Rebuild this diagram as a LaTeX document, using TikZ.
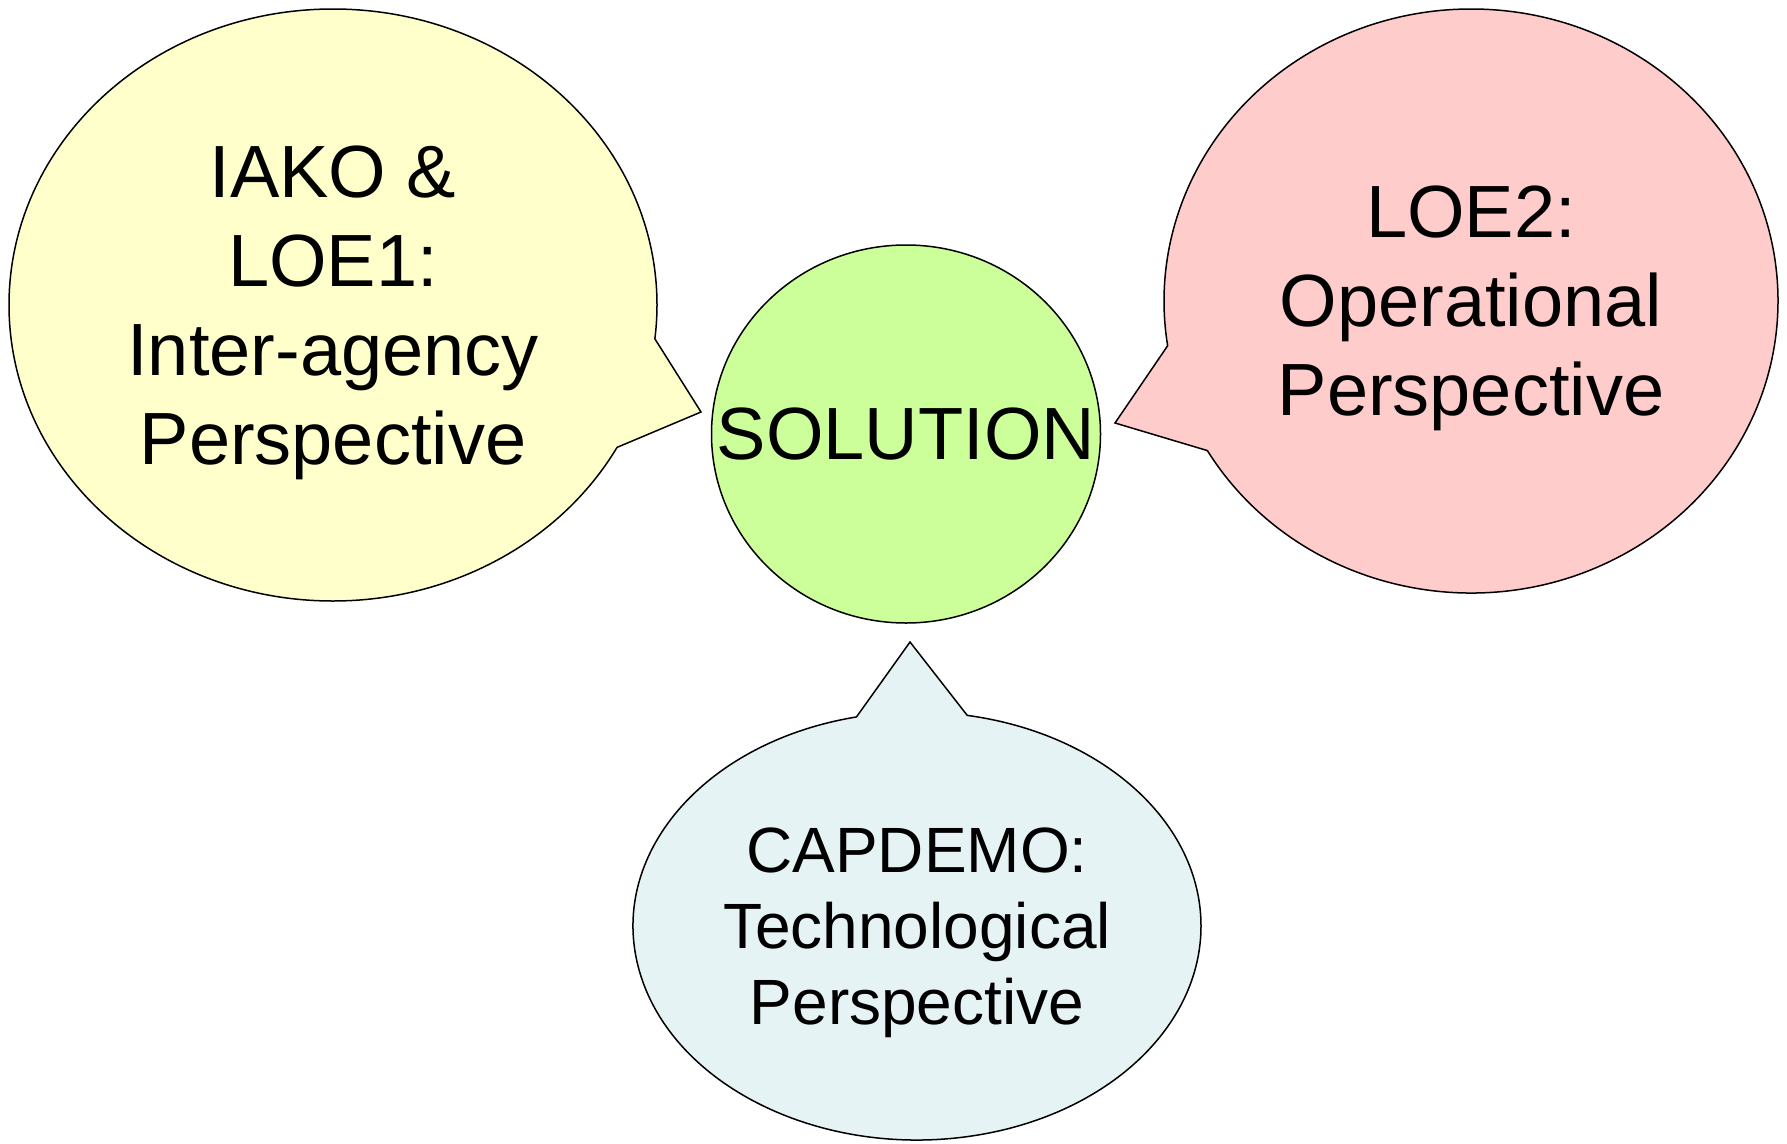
\documentclass[tikz,border=0pt]{standalone}
\usepackage{fontspec}
\setmainfont{Liberation Sans}
\usetikzlibrary{shapes.callouts,shapes.geometric}
\definecolor{bubyellow}{HTML}{FFFFCC}
\definecolor{bubpink}{HTML}{FFCCCC}
\definecolor{bubgreen}{HTML}{CCFF99}
\definecolor{bubblue}{HTML}{E5F3F4}
\begin{document}
\begin{tikzpicture}[x=1pt,y=-1pt,
  outl/.style={draw=black, line width=1.5pt, inner sep=0pt, align=center, text depth=0pt},
  bigtext/.style={font=\fontsize{74}{89}\selectfont},
  smalltext/.style={font=\fontsize{64}{76}\selectfont},
  bubble/.style={ellipse callout, outl}]
\useasboundingbox (0,0) rectangle (1787,1143);
\coordinate (tipY) at (701,412);
\coordinate (tipP) at (1115,423);
\coordinate (tipB) at (910,642);
\node[ellipse, outl, bigtext, fill=bubgreen, minimum width=389pt, minimum height=378pt] (sol) at (906,434) {\makebox[0pt]{SOLUTION}};
\node[bubble, bigtext, fill=bubyellow, minimum width=648pt, minimum height=592pt,
  callout absolute pointer={(tipY)}, callout pointer arc=22.2] (iako) at (333,305)
  {IAKO \&\\LOE1:\\Inter-agency\\Perspective};
\node[bubble, bigtext, fill=bubpink, minimum width=614pt, minimum height=584pt,
  callout absolute pointer={(tipP)}, callout pointer arc=22] (loe) at (1471,301)
  {LOE2:\\Operational\\Perspective};
\node[bubble, smalltext, fill=bubblue, minimum width=568pt, minimum height=428pt,
  callout absolute pointer={(tipB)}, callout pointer arc=22.5] (cap) at (917,926)
  {CAPDEMO:\\Technological\\Perspective};
\end{tikzpicture}
\end{document}
